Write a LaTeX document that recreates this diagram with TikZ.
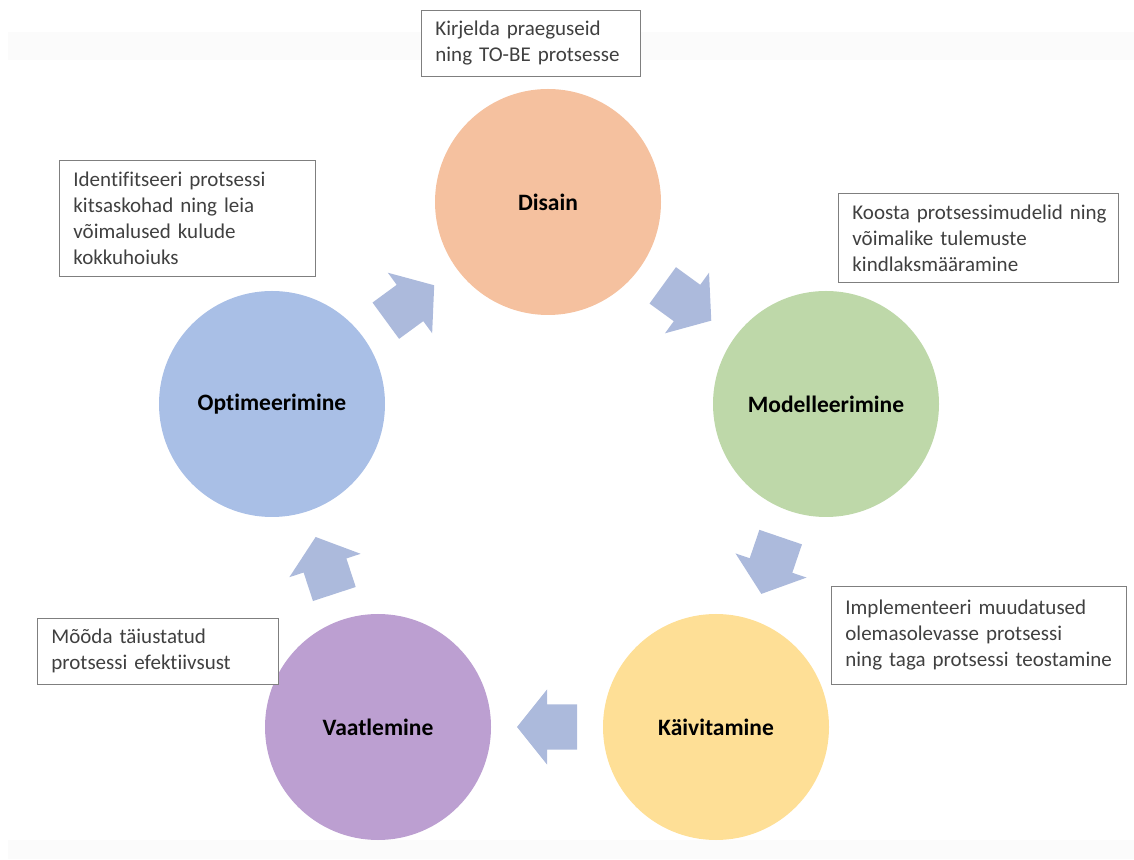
\documentclass[tikz,border=0pt]{standalone}
\usepackage{fontspec}
\setmainfont{Carlito}[Ligatures=NoCommon]
\usetikzlibrary{calc}
\definecolor{cDis}{HTML}{F5C19F}
\definecolor{cMod}{HTML}{BED8A9}
\definecolor{cKai}{HTML}{FEDF96}
\definecolor{cVaa}{HTML}{BC9FD1}
\definecolor{cOpt}{HTML}{A9BFE6}
\definecolor{cArr}{HTML}{ACBADC}
\definecolor{cTxt}{HTML}{404040}
\definecolor{cBrd}{HTML}{7F7F7F}
\definecolor{cBg}{HTML}{FBFBFB}
\tikzset{
  phase/.style={circle, minimum size=226pt, inner sep=0pt, fill=#1,
    font=\fontsize{23.5}{26}\selectfont\bfseries, text=black},
  note/.style={draw=cBrd, line width=0.8pt, fill=white, anchor=north west,
    align=left, inner xsep=14pt, inner ysep=0pt, text=cTxt,
    font=\fontsize{21}{26}\selectfont},
  flow/.style={fill=cArr, draw=none}
}
\begin{document}
\begin{tikzpicture}[x=1pt,y=1pt]
\useasboundingbox (0,0) rectangle (1134,859);
\fill[cBg] (8,799) rectangle (1134,827);
\fill[cBg] (8,0) rectangle (1134,19);
% phases
\node[phase=cDis] (dis) at (548,657) {Disain};
\node[phase=cMod] (mod) at (826,455) {Modelleerimine};
\node[phase=cKai] (kai) at (716,132) {Käivitamine};
\node[phase=cVaa] (vaa) at (378,132) {Vaatlemine};
\node[phase=cOpt] (opt) at (272,455) {Optimeerimine};
% block arrows
\foreach \a/\b in {opt/dis, dis/mod, mod/kai, kai/vaa, vaa/opt}{
  \fill[flow] let \p1=($(\b)-(\a)$), \n1={atan2(\y1,\x1)},
      \p2=($(\a)!0.5!(\b)$) in
    ([shift={(\p2)},rotate=\n1]30,0) --
    ([shift={(\p2)},rotate=\n1]0,37.5) --
    ([shift={(\p2)},rotate=\n1]0,22.5) --
    ([shift={(\p2)},rotate=\n1]-30,22.5) --
    ([shift={(\p2)},rotate=\n1]-30,-22.5) --
    ([shift={(\p2)},rotate=\n1]0,-22.5) --
    ([shift={(\p2)},rotate=\n1]0,-37.5) -- cycle;
}
% notes
\node[note, text width=191pt, minimum height=66pt] (n1) at (421,849)
  {\mbox{Kirjelda praeguseid}\\\mbox{ning TO-BE protsesse}};
\node[note, text width=228pt, minimum height=116pt] (n2) at (59,699)
  {\mbox{Identifitseeri protsessi}\\\mbox{kitsaskohad ning leia}\\\mbox{võimalused kulude}\\\mbox{kokkuhoiuks}};
\node[note, text width=252pt, minimum height=89pt] (n3) at (838,666)
  {\mbox{Koosta protsessimudelid ning}\\\mbox{võimalike tulemuste}\\\mbox{kindlaksmääramine}};
\node[note, text width=267pt, minimum height=98pt] (n4) at (831,273)
  {\mbox{Implementeeri muudatused}\\\mbox{olemasolevasse protsessi}\\\mbox{ning taga protsessi teostamine}};
\node[note, text width=213pt, minimum height=66pt] (n5) at (37,241)
  {\mbox{Mõõda täiustatud}\\\mbox{protsessi efektiivsust}};
\end{tikzpicture}
\end{document}
